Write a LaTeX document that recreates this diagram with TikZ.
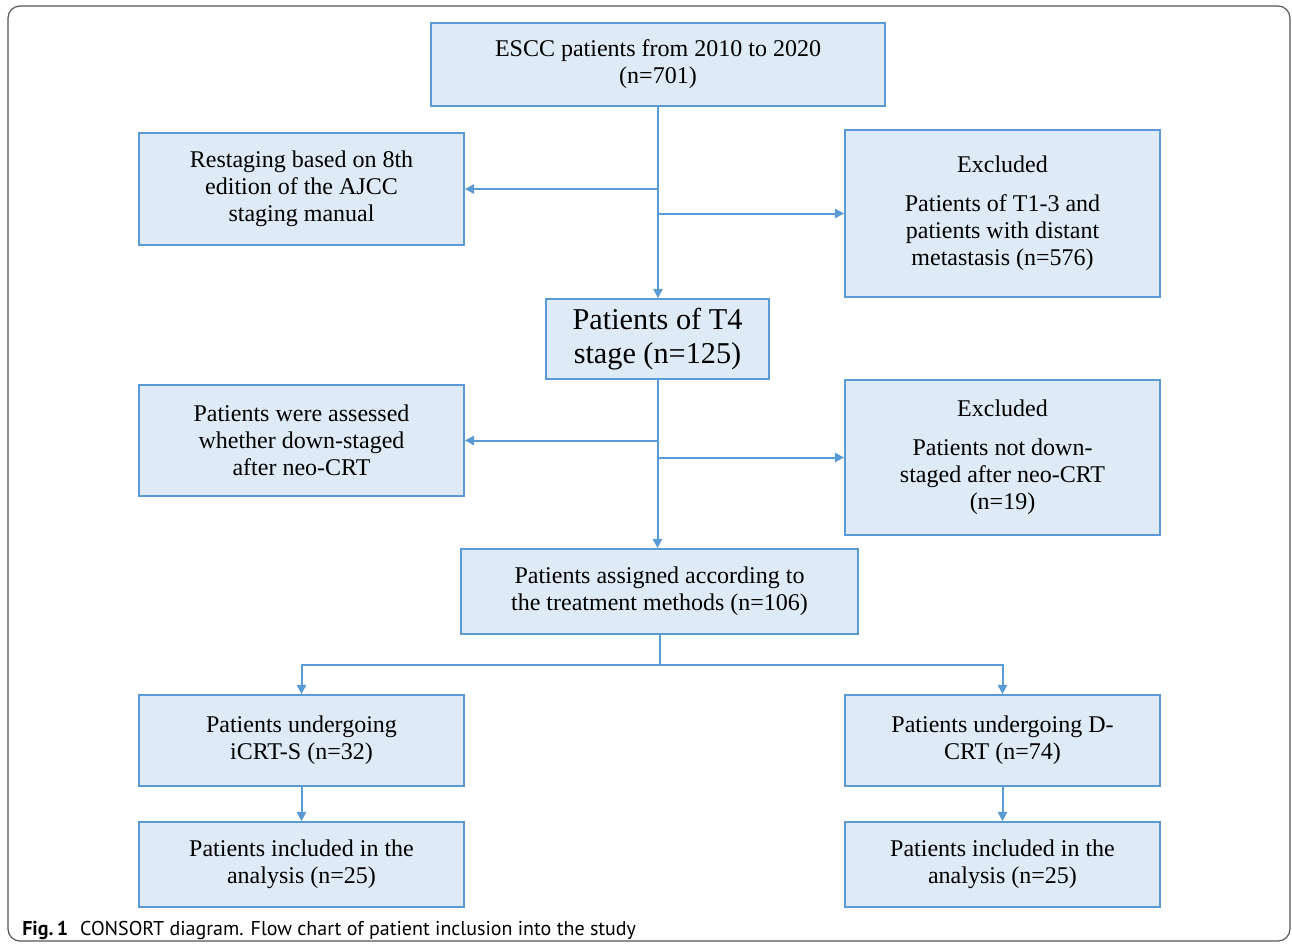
\documentclass[tikz,border=0pt]{standalone}
\usepackage{fontspec}
\setmainfont{Liberation Serif}
\newfontfamily\captionfont{PT Sans}
\usetikzlibrary{positioning, arrows.meta, calc}
\usepackage{xcolor}
\definecolor{boxfill}{HTML}{DEEAF6}
\definecolor{boxline}{HTML}{5B9BD5}
\definecolor{framegray}{HTML}{555555}

\begin{document}
\begin{tikzpicture}[
    x=0.75pt, y=-0.75pt,
    box/.style={rectangle, draw=boxline, fill=boxfill, line width=1.3pt, align=center, inner sep=2pt,
        font=\fontsize{18}{20.3}\selectfont},
    arrow/.style={-{Triangle[length=7pt, width=7pt]}, draw=boxline, line width=1.5pt}
]
    \useasboundingbox (0,0) rectangle (1292,951);
    \draw[framegray, line width=0.9pt, rounded corners=9pt] (8,6) rectangle (1290,941);

    \node[box, minimum width=340.5pt, minimum height=62.25pt] (escc) at (658,64.5)
        {ESCC patients from 2010 to 2020\\(n=701)};
    \node[box, minimum width=243.75pt, minimum height=84pt] (restage) at (301.5,189)
        {Restaging based on 8th\\edition of the AJCC\\staging manual};
    \node[box, minimum width=236.25pt, minimum height=125.25pt] (excl1) at (1002.5,213.5)
        {Excluded\\[9pt]Patients of T1-3 and\\patients with distant\\metastasis (n=576)};
    \node[box, minimum width=167.25pt, minimum height=60pt, font=\fontsize{22.7}{25.5}\selectfont] (t4) at (657.5,339)
        {Patients of T4\\stage (n=125)};
    \node[box, minimum width=243.75pt, minimum height=83.25pt] (assessed) at (301.5,440.5)
        {Patients were assessed\\whether down-staged\\after neo-CRT};
    \node[box, minimum width=236.25pt, minimum height=116.25pt] (excl2) at (1002.5,457.5)
        {Excluded\\[9pt]Patients not down-\\staged after neo-CRT\\(n=19)};
    \node[box, minimum width=297.75pt, minimum height=63.75pt] (assigned) at (659.5,591.5)
        {Patients assigned according to\\the treatment methods (n=106)};
    \node[box, minimum width=243.75pt, minimum height=68.25pt] (icrt) at (301.5,740.5)
        {Patients undergoing\\iCRT-S (n=32)};
    \node[box, minimum width=236.25pt, minimum height=68.25pt] (dcrt) at (1002.5,740.5)
        {Patients undergoing D-\\CRT (n=74)};
    \node[box, minimum width=243.75pt, minimum height=63.75pt] (incl1) at (301.5,864.5)
        {Patients included in the\\analysis (n=25)};
    \node[box, minimum width=236.25pt, minimum height=63.75pt] (incl2) at (1002.5,864.5)
        {Patients included in the\\analysis (n=25)};

    \node[anchor=base west, inner sep=0pt, font=\captionfont\fontsize{15}{18}\selectfont] (caption) at (22,935)
        {\textbf{Fig.\,1}\hspace{0.6em}CONSORT diagram. Flow chart of patient inclusion into the study};

    % first stage
    \draw[arrow] (escc.south) -- (escc.south |- t4.north);
    \draw[arrow] (escc.south) |- (restage.east);
    \draw[arrow] (escc.south) |- (excl1.west);

    % second stage
    \draw[arrow] (t4.south) -- (t4.south |- assigned.north);
    \draw[arrow] (t4.south) |- (assessed.east);
    \draw[arrow] (t4.south) |- (excl2.west);

    % treatment groups
    \draw[draw=boxline, line width=1.5pt] (assigned.south) -- ++(0,30) coordinate (split);
    \draw[arrow] (split) -| (icrt.north);
    \draw[arrow] (split) -| (dcrt.north);
    \draw[arrow] (icrt) -- (incl1);
    \draw[arrow] (dcrt) -- (incl2);
\end{tikzpicture}
\end{document}
